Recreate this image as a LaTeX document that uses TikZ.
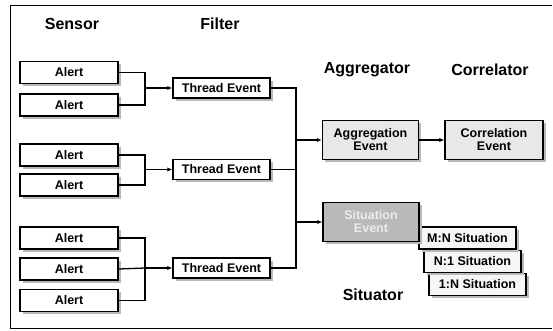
\documentclass[tikz,border=0pt]{standalone}
\usepackage{fontspec}
\setmainfont{Liberation Sans}
\usetikzlibrary{arrows.meta,shadows}
\begin{document}
\begin{tikzpicture}[x=1pt,y=-1pt,
  box/.style={draw=black,line width=1.5pt,fill=white,inner sep=0pt,align=center,
    font=\fontsize{12.5}{13}\selectfont\bfseries,
    drop shadow={shadow xshift=2.5pt,shadow yshift=-2.5pt,fill=gray!55,opacity=1}},
  alertbox/.style={box,minimum width=98pt,minimum height=22pt},
  tebox/.style={box,minimum width=97pt,minimum height=20pt},
  bigbox/.style={box,minimum width=96pt,minimum height=39pt,fill=gray!18},
  sitbox/.style={box,minimum width=97pt,minimum height=22pt,fill=gray!7},
  head/.style={font=\fontsize{16}{18}\selectfont\bfseries},
  conn/.style={line width=1.3pt},
  arr/.style={conn,-{Latex[length=5pt,width=4.5pt]}}]
\useasboundingbox (0,0) rectangle (553,330);
\draw[line width=0.8pt] (552,5) -- (10,5) -- (10,328) -- (552,328);
% headers
\node[head] (hsensor) at (72,24) {Sensor};
\node[head] (hfilter) at (220,24) {Filter};
\node[head] (hagg) at (367,70) {Aggregator};
\node[head] (hcorr) at (490,70) {Correlator};
\node[head] (hsit) at (373,295) {Situator};
% alerts
\node[alertbox] (a1) at (69,72.5) {Alert};
\node[alertbox] (a2) at (69,105) {Alert};
\node[alertbox] (a3) at (69,155) {Alert};
\node[alertbox] (a4) at (69,185) {Alert};
\node[alertbox] (a5) at (69,238) {Alert};
\node[alertbox] (a6) at (69,269) {Alert};
\node[alertbox] (a7) at (69,300.5) {Alert};
% thread events
\node[tebox] (t1) at (221.5,88) {Thread Event};
\node[tebox] (t2) at (221.5,169.5) {Thread Event};
\node[tebox] (t3) at (221.5,268) {Thread Event};
% aggregation / correlation
\node[bigbox] (ag) at (370.5,140) {Aggregation\\Event};
\node[bigbox,minimum width=98pt] (co) at (494,140) {Correlation\\Event};
% situations
\node[sitbox] (s3) at (477.5,284.5) {1:N Situation};
\node[sitbox] (s2) at (472.5,261.5) {N:1 Situation};
\node[sitbox] (s1) at (467.5,238) {M:N Situation};
\node[bigbox,fill=gray!55,text=gray!15] (se) at (371,222) {Situation\\Event};
% bracket coordinates
\coordinate (b1) at (145,88);
\coordinate (b2) at (145,169.5);
\coordinate (b3) at (145,268);
\draw[conn] (a1.east) -| (b1) |- (a2.east);
\draw[arr] (b1) -- (t1.west);
\draw[conn] (a3.east) -| (b2) |- (a4.east);
\draw[arr] (b2) -- (t2.west);
\draw[conn] (a5.east) -| (b3) |- (a7.east);
\draw[conn] (a6.east) -- (b3);
\draw[arr] (b3) -- (t3.west);
% merge
\coordinate (m1) at (296,88);
\coordinate (m3) at (296,268);
\coordinate (mag) at (296,140);
\coordinate (mse) at (296,222);
\draw[conn] (t1.east) -- (m1) -- (m3) -- (t3.east);
\draw[conn] (t2.east) -- (296,169.5);
\draw[arr] (mag) -- (ag.west);
\draw[arr] (mse) -- (se.west);
\draw[arr] (ag.east) -- (co.west);
\end{tikzpicture}
\end{document}
